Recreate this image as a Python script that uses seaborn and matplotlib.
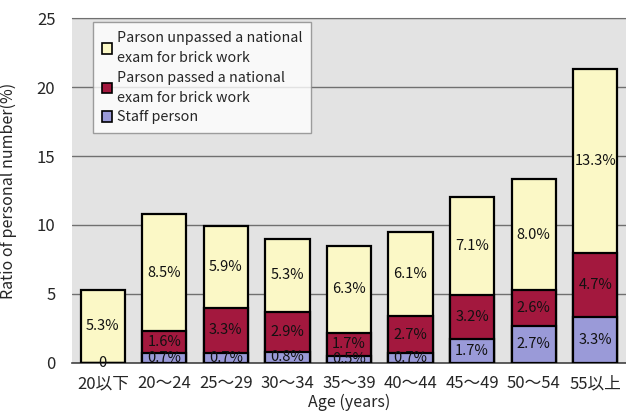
import numpy as np
import pandas as pd
import matplotlib
matplotlib.use("Agg")
import matplotlib.pyplot as plt
import seaborn as sns
from matplotlib.patches import Patch

ages = ["20以下", "20〜24", "25〜29", "30〜34", "35〜39", "40〜44", "45〜49", "50〜54", "55以上"]
staff = [0.0, 0.7, 0.7, 0.8, 0.5, 0.7, 1.7, 2.7, 3.3]
passed = [0.0, 1.6, 3.3, 2.9, 1.7, 2.7, 3.2, 2.6, 4.7]
unpassed = [5.3, 8.5, 5.9, 5.3, 6.3, 6.1, 7.1, 8.0, 13.3]

c_unpassed = "#fbf8c6"
c_passed = "#a3183e"
c_staff = "#9a9ad8"

sns.set_style("white")
plt.rcParams["font.family"] = ["Noto Sans CJK JP", "DejaVu Sans"]

df = pd.DataFrame({"age": ages, "staff": staff, "passed": passed, "unpassed": unpassed})
df["low2"] = df["staff"] + df["passed"]
df["total"] = df["low2"] + df["unpassed"]

fig = plt.figure(figsize=(6.26, 4.11), dpi=100)
ax = fig.add_axes([0.115, 0.117, 0.885, 0.839])
ax.set_facecolor("#e3e3e3")

kw = dict(x="age", order=ages, edgecolor="black", linewidth=1.6, width=0.72, ax=ax, zorder=3)
sns.barplot(data=df, y="total", color=c_unpassed, saturation=1, **kw)
sns.barplot(data=df, y="low2", color=c_passed, saturation=1, **kw)
sns.barplot(data=df, y="staff", color=c_staff, saturation=1, **kw)

# segment labels
for i, row in df.iterrows():
    segs = [(row["staff"], 0.0, True), (row["passed"], row["staff"], False),
            (row["unpassed"], row["low2"], False)]
    for v, base, show_zero in segs:
        if v == 0 and not show_zero:
            continue
        txt = "0" if v == 0 else f"{v:.1f}%"
        ax.text(i, base + v / 2, txt, ha="center", va="center", fontsize=10.5,
                color="#111111", zorder=5)

ax.set_ylim(0, 25)
ax.set_xlim(-0.5, 8.5)
ax.set_yticks([0, 5, 10, 15, 20, 25])
ax.yaxis.grid(True, color="#707070", linewidth=1)
ax.set_axisbelow(True)
ax.tick_params(axis="y", length=0, pad=12, labelsize=12)
ax.tick_params(axis="x", length=0, pad=9, labelsize=12)
ax.set_xticks(np.arange(-0.5, 9, 1), minor=True)
ax.tick_params(axis="x", which="minor", length=4, direction="in", color="#555555")

for s in ["left", "right"]:
    ax.spines[s].set_visible(False)
ax.spines["top"].set_color("#707070")
ax.spines["bottom"].set_color("#444444")
ax.spines["bottom"].set_linewidth(1.2)

ax.set_xlabel("Age (years)", fontsize=11.5, labelpad=1)
ax.set_ylabel("Ratio of personal number(%)", fontsize=11.5, labelpad=14)

handles = [Patch(facecolor=c_unpassed, edgecolor="black", linewidth=1.2),
           Patch(facecolor=c_passed, edgecolor="black", linewidth=1.2),
           Patch(facecolor=c_staff, edgecolor="black", linewidth=1.2)]
labels = ["Parson unpassed a national\nexam for brick work",
          "Parson passed a national\nexam for brick work",
          "Staff person"]
leg = ax.legend(handles, labels, loc="upper left", bbox_to_anchor=(0.038, 0.988),
                borderaxespad=0, fontsize=10.3, frameon=True, fancybox=False,
                handlelength=0.75, handleheight=0.75, handletextpad=0.35,
                labelspacing=0.4, borderpad=0.6)
for t in leg.get_texts():
    t.set_linespacing(1.55)
leg.get_frame().set_edgecolor("#888888")
leg.get_frame().set_linewidth(1)
leg.set_zorder(6)

fig.savefig("out.png", dpi=100)
